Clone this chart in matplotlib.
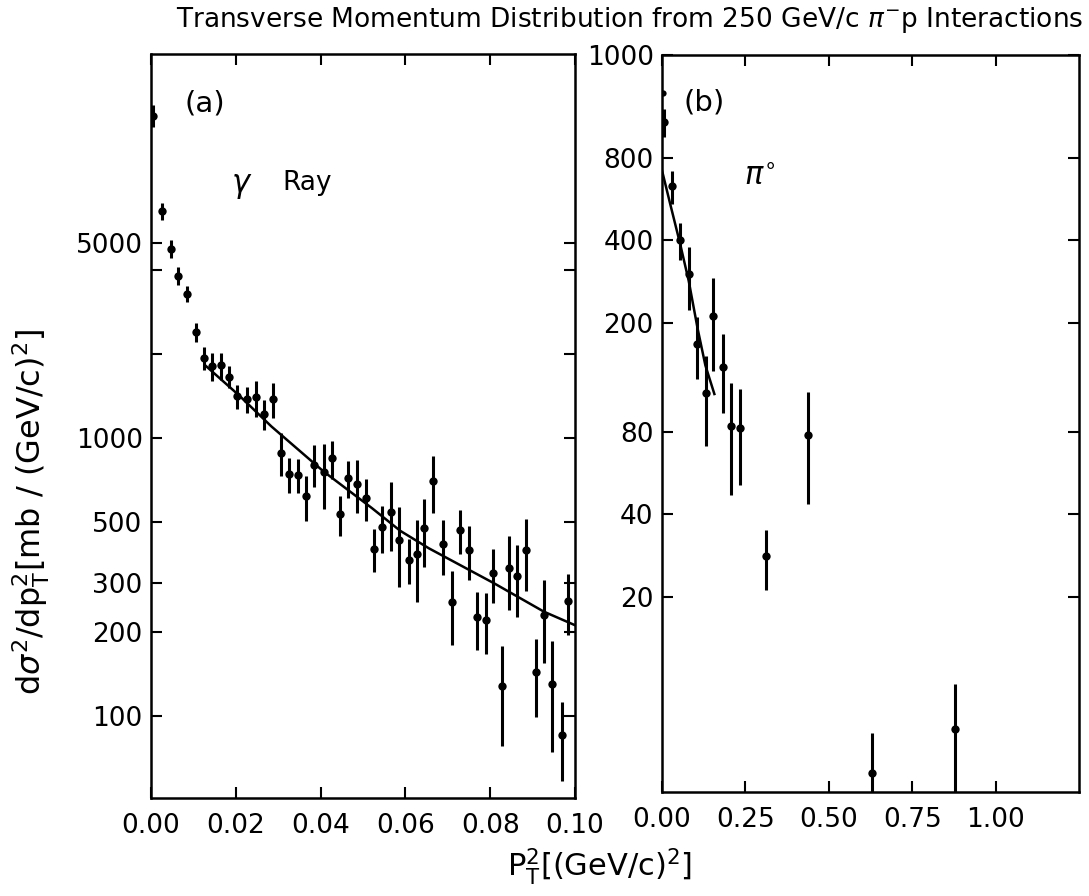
import matplotlib
matplotlib.use("Agg")
import matplotlib.pyplot as plt

# ---------------- data ----------------
# panel (a): gamma rays
a_x = [0.0005, 0.0025, 0.0047, 0.0064, 0.0085, 0.0105, 0.0125, 0.0144, 0.0165, 0.0184,
       0.0204, 0.0227, 0.0247, 0.0267, 0.0287, 0.0306, 0.0326, 0.0346, 0.0366, 0.0385,
       0.0407, 0.0426, 0.0446, 0.0464, 0.0485, 0.0508, 0.0526, 0.0544, 0.0567, 0.0584,
       0.0608, 0.0627, 0.0645, 0.0665, 0.0688, 0.0709, 0.0728, 0.0749, 0.0769, 0.0789,
       0.0807, 0.0827, 0.0844, 0.0864, 0.0885, 0.0907, 0.0927, 0.0946, 0.0969, 0.0983]
a_y = [14400, 6535, 4790, 3825, 3300, 2394, 1943, 1811, 1822, 1658,
       1410, 1381, 1398, 1220, 1375, 885, 741, 737, 617, 802,
       753, 845, 532, 715, 685, 607, 399, 478, 541, 429,
       365, 382, 473, 700, 415, 256, 465, 394, 226, 222,
       327, 128, 341, 319, 396, 144, 231, 130, 85.5, 260]
a_err = [1300, 450, 360, 275, 210, 190, 187, 216, 205, 148,
         141, 148, 205, 150, 198, 155, 105, 101, 113, 137,
         199, 133, 87, 108, 149, 104, 71, 93, 150, 137,
         67, 126, 131, 164, 93, 76, 83, 87, 54, 55,
         72, 50, 101, 93, 114, 45, 76, 56, 27, 64]
a_fit_x = [0.0130, 0.0206, 0.0284, 0.0407, 0.0521, 0.0588, 0.0655, 0.0809, 0.0927, 0.1000]
a_fit_y = [1810, 1429, 1099, 757, 559, 463, 401, 300, 237, 212]

# panel (b): pi0
b_x = [0.007, 0.030, 0.054, 0.080, 0.104, 0.131, 0.154, 0.183, 0.208, 0.235,
       0.312, 0.438, 0.630, 0.877]
b_y = [1082, 630, 401, 301, 168, 111, 212, 138, 84, 83,
       28.2, 77.7, 4.57, 6.58]
b_err = [125, 86, 62, 78, 43, 40, 79, 44, 37, 32,
         7, 34, 1.8, 3.0]
b_dot_x = [0.004]
b_dot_y = [1380]
b_fit_x = [0.0, 0.024, 0.054, 0.080, 0.107, 0.130, 0.157]
b_fit_y = [720, 547, 390, 285, 190, 140, 110]

# axes / ticks
a_xticks = [0.00, 0.02, 0.04, 0.06, 0.08, 0.10]
a_xticklabels = ["0.00", "0.02", "0.04", "0.06", "0.08", "0.10"]
a_yticks = [100, 200, 300, 500, 1000, 2000, 4000, 5000]
a_yticklabels = ["100", "200", "300", "500", "1000", "", "", "5000"]
a_ylim = (50.7, 24000)

b_xticks = [0.00, 0.25, 0.50, 0.75, 1.00]
b_xticklabels = ["0.00", "0.25", "0.50", "0.75", "1.00"]
b_ylim = (3.88, 1900)
b_yticks = [20, 40, 80, 200, 400, 800, 1900]
b_yticklabels = ["20", "40", "80", "200", "400", "800", "1000"]

title = r"Transverse Momentum Distribution from 250 GeV/c $\pi^{-}$p Interactions"
ylabel = r"d$\sigma^2$/dp$_\mathrm{T}^2$[mb / (GeV/c)$^2$]"
xlabel = r"P$_\mathrm{T}^2$[(GeV/c)$^2$]"

# ---------------- figure ----------------
plt.rcParams['font.family'] = ['DejaVu Sans']
plt.rcParams['mathtext.fontset'] = 'dejavusans'
fig = plt.figure(figsize=(10.89, 8.96), dpi=100)

W, H = 1089.0, 896.0
axa = fig.add_axes([151 / W, 1 - 798 / H, (575 - 151) / W, (798 - 54) / H])
axb = fig.add_axes([662 / W, 1 - 792 / H, (1079 - 662) / W, (792 - 55) / H])

ebkw = dict(fmt='o', color='black', ms=6, elinewidth=2.2, capsize=0, mew=0)

axa.errorbar(a_x, a_y, yerr=a_err, **ebkw)
axa.plot(a_fit_x, a_fit_y, color='black', lw=1.8)
axa.set_yscale('log')
axa.set_xlim(0, 0.10)
axa.set_ylim(*a_ylim)
axa.set_xticks(a_xticks)
axa.set_xticklabels(a_xticklabels)
axa.set_yticks(a_yticks)
axa.set_yticklabels(a_yticklabels)

axb.errorbar(b_x, b_y, yerr=b_err, **ebkw)
axb.plot(b_dot_x, b_dot_y, 'o', color='black', ms=4.5, mew=0)
axb.plot(b_fit_x, b_fit_y, color='black', lw=1.8)
axb.set_yscale('log')
axb.set_xlim(0, 1.25)
axb.set_ylim(*b_ylim)
axb.set_xticks(b_xticks)
axb.set_xticklabels(b_xticklabels)
axb.set_yticks(b_yticks)
axb.set_yticklabels(b_yticklabels)

for ax in (axa, axb):
    ax.minorticks_off()
    ax.tick_params(direction='in', length=8, width=1.5, top=True, right=True,
                   labelsize=19)
    ax.tick_params(axis='x', pad=11)
    ax.tick_params(axis='y', pad=6)
    for s in ax.spines.values():
        s.set_linewidth(1.8)

axa.text(0.127, 0.934, "(a)", transform=axa.transAxes, fontsize=21,
         ha='center', va='center')
axa.text(0.215, 0.822, r"$\gamma$", transform=axa.transAxes, fontsize=22,
         ha='center', va='center')
axa.text(0.311, 0.826, "Ray", transform=axa.transAxes, fontsize=19,
         ha='left', va='center')
axb.text(0.101, 0.935, "(b)", transform=axb.transAxes, fontsize=21,
         ha='center', va='center')
axb.text(0.197, 0.835, r"$\pi^{\circ}$", transform=axb.transAxes, fontsize=22,
         ha='left', va='center')

fig.text(630 / W, 1 - 20 / H, title, fontsize=19, ha='center', va='center')
fig.text(31 / W, 1 - 512 / H, ylabel, fontsize=23, ha='center', va='center',
         rotation=90)
fig.text(600 / W, 1 - 866 / H, xlabel, fontsize=22, ha='center', va='center')

fig.savefig("out.png", dpi=100)
